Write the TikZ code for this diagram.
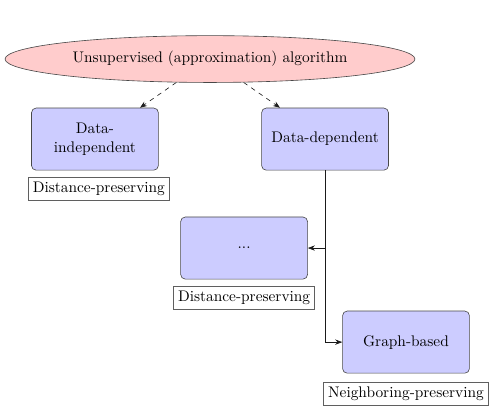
\documentclass[tikz,border=0pt]{standalone}
\usepackage{tikz}
\usetikzlibrary{arrows.meta,positioning,shapes.geometric}
\definecolor{algfill}{HTML}{FFCCCC}
\definecolor{boxfill}{HTML}{CCCCFF}
\definecolor{ink}{HTML}{1A1A1A}

\begin{document}
\begin{tikzpicture}[
    method/.style={draw=ink!80, fill=boxfill, rounded corners=3pt, align=center,
                   minimum width=2.9cm, minimum height=1.42cm},
    prop/.style={draw=ink!70, fill=white, inner sep=3pt, minimum height=0.5cm},
    link/.style={-{Stealth[length=1.6mm]}, ink}]
  \useasboundingbox (0,0) rectangle (11.36,9.28);
  \node[ellipse, draw=ink!80, fill=algfill, minimum width=9.37cm, minimum height=1.07cm] (alg) at (4.80,7.93) {Unsupervised (approximation) algorithm};
  \node[method] (indep) at (2.17,6.10) {Data-\\independent};
  \node[method] (dep) at (7.43,6.10) {Data-dependent};
  \node[prop, below=0.16cm of indep, xshift=0.09cm] (indepprop) {Distance-preserving};
  \node[method] (dots) at (5.58,3.61) {...};
  \node[prop, below=0.16cm of dots] (dotsprop) {Distance-preserving};
  \node[method] (graph) at (9.28,1.46) {Graph-based};
  \node[prop, below=0.2cm of graph] (graphprop) {Neighboring-preserving};
  \draw[link, dashed] (alg) -- (indep);
  \draw[link, dashed] (alg) -- (dep);
  \draw[link] (dep.south) |- (dots.east);
  \draw[link] (dep.south) |- (graph.west);
\end{tikzpicture}
\end{document}
